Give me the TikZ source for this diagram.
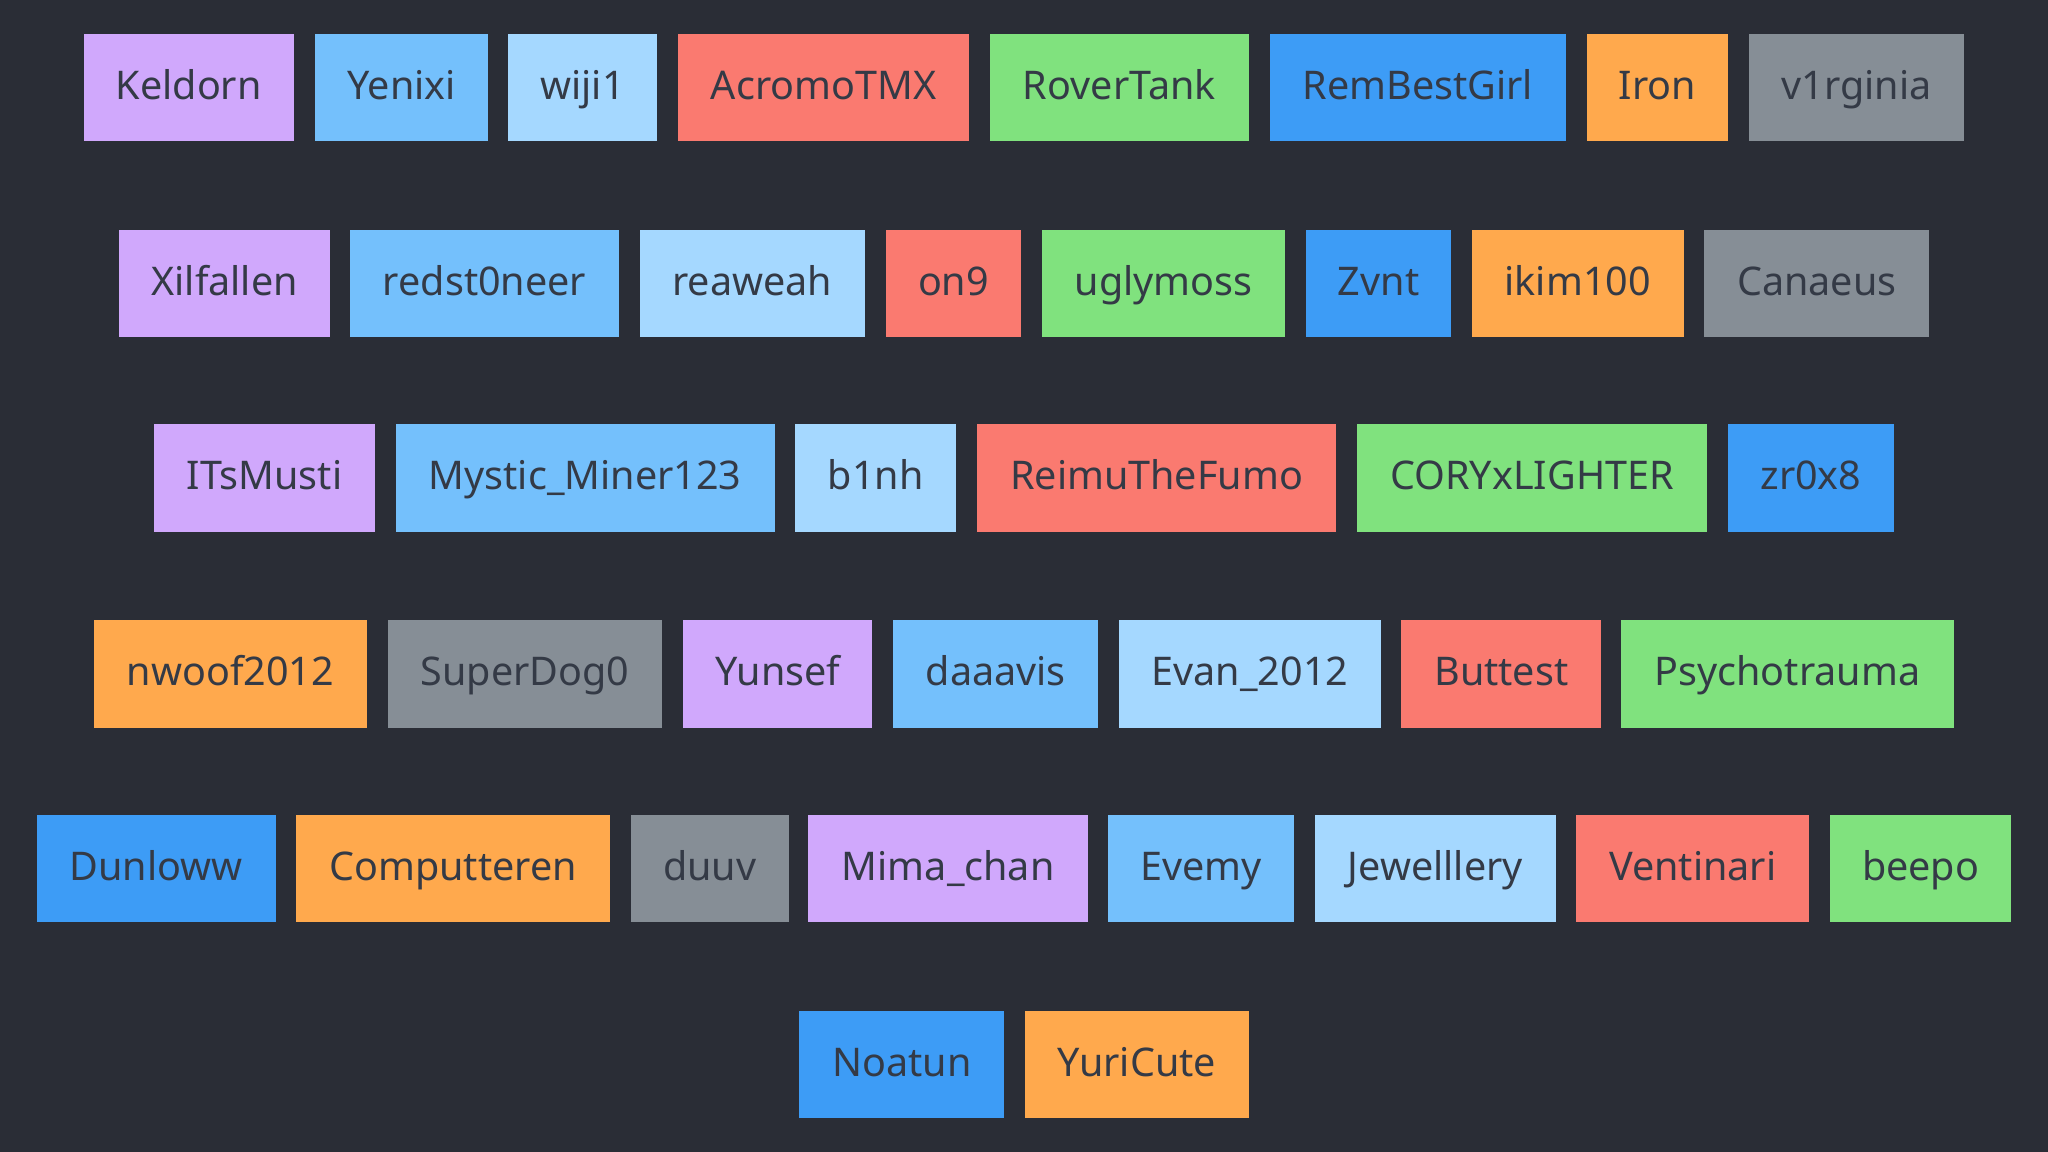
\documentclass[tikz,border=0pt]{standalone}
\usepackage{fontspec}
\setmainfont{Noto Sans}
\definecolor{bgcol}{HTML}{2A2D36}
\definecolor{txtcol}{HTML}{343A46}
\definecolor{cpurple}{HTML}{D0A8FC}
\definecolor{cblue}{HTML}{74C0FC}
\definecolor{cpale}{HTML}{A5D8FF}
\definecolor{cred}{HTML}{FA7A70}
\definecolor{cgreen}{HTML}{80E27E}
\definecolor{cdeep}{HTML}{3D9CF6}
\definecolor{corange}{HTML}{FFA94D}
\definecolor{cgray}{HTML}{868E96}
\tikzset{tag/.style={inner sep=0pt, minimum height=0.82cm, text height=0.74em, text depth=0.22em,
    text=txtcol, font=\fontsize{8.6pt}{10pt}\selectfont}}
\begin{document}
\begin{tikzpicture}[x=0.01cm, y=-0.01cm]
    \fill[bgcol] (0,0) rectangle (1568,882);
    \useasboundingbox (0,0) rectangle (1568,882);
    % rows of tags: left/right/row centre/colour/label
    \foreach \l/\r/\y/\c/\t [count=\i] in {
        64/225/67/cpurple/Keldorn, 241/374/67/cblue/Yenixi, 389/503/67/cpale/wiji1,
        519/742/67/cred/AcromoTMX, 758/956/67/cgreen/RoverTank, 972/1199/67/cdeep/RemBestGirl,
        1215/1323/67/corange/Iron, 1339/1504/67/cgray/v1rginia,
        91/253/217/cpurple/Xilfallen, 268/474/217/cblue/redst0neer, 490/662/217/cpale/reaweah,
        678/782/217/cred/on9, 798/984/217/cgreen/uglymoss, 1000/1111/217/cdeep/Zvnt,
        1127/1289/217/corange/ikim100, 1305/1477/217/cgray/Canaeus,
        118/287/366/cpurple/ITsMusti, 303/593/366/cblue/Mystic\_Miner123, 609/732/366/cpale/b1nh,
        748/1023/366/cred/ReimuTheFumo, 1039/1307/366/cgreen/CORYxLIGHTER, 1323/1450/366/cdeep/zr0x8,
        72/281/516/corange/nwoof2012, 297/507/516/cgray/SuperDog0, 523/668/516/cpurple/Yunsef,
        684/841/516/cblue/daaavis, 857/1057/516/cpale/Evan\_2012, 1073/1226/516/cred/Buttest,
        1241/1496/516/cgreen/Psychotrauma,
        28/211/665/cdeep/Dunloww, 227/467/665/corange/Computteren, 483/604/665/cgray/duuv,
        619/833/665/cpurple/Mima\_chan, 848/991/665/cblue/Evemy, 1007/1191/665/cpale/Jewelllery,
        1207/1385/665/cred/Ventinari, 1401/1540/665/cgreen/beepo,
        612/769/815/cdeep/Noatun, 785/956/815/corange/YuriCute}
    {
        \pgfmathsetmacro{\w}{(\r-\l)*0.01}
        \node[tag, fill=\c, minimum width=\w cm] (tag\i) at ({(\l+\r)/2},\y) {\t};
    }
\end{tikzpicture}
\end{document}
